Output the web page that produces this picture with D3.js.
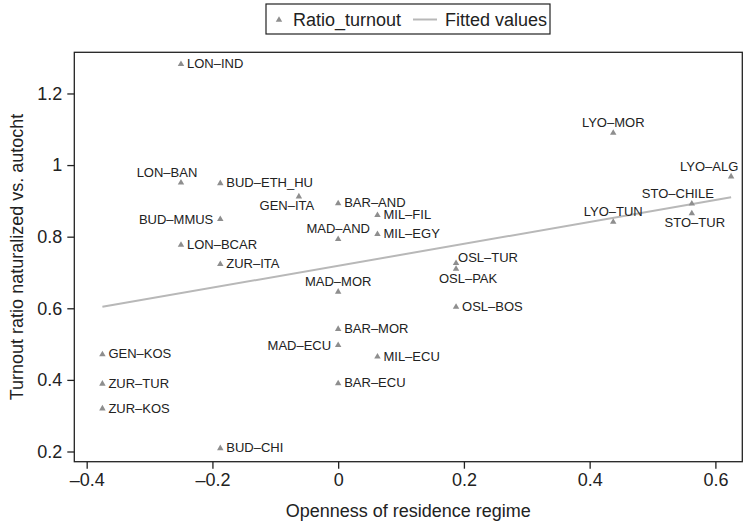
<!DOCTYPE html>
<html>
<head>
<meta charset="utf-8">
<script src="https://cdn.jsdelivr.net/npm/d3@7"></script>
<style>
  html, body { margin: 0; padding: 0; background: #fff; }
  svg { display: block; font-family: "Liberation Sans", Arial, Helvetica, sans-serif; }
</style>
</head>
<body>
<svg id="chart" width="744" height="525"></svg>
<script>
// City–origin pairs: openness of residence regime vs. turnout ratio
const pairLabels = ["LON–IND","LON–BAN","BUD–ETH_HU","GEN–ITA","BAR–AND","BUD–MMUS","MAD–AND",
  "MIL–FIL","MIL–EGY","LON–BCAR","ZUR–ITA","OSL–TUR","OSL–PAK","MAD–MOR","OSL–BOS","BAR–MOR",
  "MAD–ECU","MIL–ECU","BAR–ECU","GEN–KOS","ZUR–TUR","ZUR–KOS","BUD–CHI","LYO–MOR","LYO–ALG",
  "STO–CHILE","STO–TUR","LYO–TUN"];
const openness = [-0.25,-0.25,-0.1875,-0.0625,0,-0.1875,0,
  0.0625,0.0625,-0.25,-0.1875,0.1875,0.1875,0,0.1875,0,
  0,0.0625,0,-0.375,-0.375,-0.375,-0.1875,0.4375,0.625,
  0.5625,0.5625,0.4375];
const ratioTurnout = [1.282,0.951,0.949,0.912,0.893,0.849,0.793,
  0.860,0.807,0.777,0.723,0.726,0.710,0.646,0.604,0.542,
  0.497,0.465,0.390,0.471,0.389,0.320,0.209,1.090,0.968,
  0.892,0.865,0.841];
// marker-label clock positions
const labelClock = [3,11,3,7,3,9,12,
  3,3,3,3,2,5,12,3,3,
  9,3,3,3,3,3,3,12,11,
  11,6,12];

// fitted values (linear fit) at the ends of the observed range
const fitX = [-0.375, 0.625];
const fitY = [0.604, 0.910];

const xTicks = [-0.4,-0.2,0,0.2,0.4,0.6];
const yTicks = [0.2,0.4,0.6,0.8,1,1.2];

const W = 744, H = 525;
const margin = {left: 74.3, top: 52.3, right: 1.7, bottom: 63.3};
const markerColor = "#8e8e8e";
const lineColor = "#b8b8b8";
const inkColor = "#222";

const svg = d3.select("#chart");

const x = d3.scaleLinear().domain([-0.4197, 0.6428]).range([margin.left, W - margin.right]);
const y = d3.scaleLinear().domain([0.1715, 1.315]).range([H - margin.bottom, margin.top]);

const fmt = d => (d < 0 ? "–" : "") + String(Math.round(Math.abs(d) * 10) / 10);

// axes
const gx = svg.append("g")
  .attr("transform", `translate(0,${H - margin.bottom})`)
  .call(d3.axisBottom(x).tickValues(xTicks).tickFormat(fmt).tickSize(7).tickSizeOuter(0).tickPadding(5));
const gy = svg.append("g")
  .attr("transform", `translate(${margin.left},0)`)
  .call(d3.axisLeft(y).tickValues(yTicks).tickFormat(fmt).tickSize(7).tickSizeOuter(0).tickPadding(5));
[gx, gy].forEach(g => {
  g.select(".domain").remove();
  g.selectAll(".tick line").attr("stroke", inkColor).attr("stroke-width", 1.3);
  g.selectAll(".tick text").attr("fill", inkColor).attr("font-size", 18)
    .attr("font-family", "Liberation Sans, Arial, sans-serif");
});

// plot region frame
svg.append("rect")
  .attr("x", margin.left).attr("y", margin.top)
  .attr("width", W - margin.right - margin.left)
  .attr("height", H - margin.bottom - margin.top)
  .attr("fill", "none").attr("stroke", inkColor).attr("stroke-width", 1.3);

// axis titles
svg.append("text")
  .attr("x", (margin.left + W - margin.right) / 2).attr("y", 517)
  .attr("text-anchor", "middle").attr("font-size", 18).attr("fill", inkColor)
  .text("Openness of residence regime");
svg.append("text")
  .attr("transform", `translate(23,${(margin.top + H - margin.bottom) / 2}) rotate(-90)`)
  .attr("text-anchor", "middle").attr("font-size", 18).attr("fill", inkColor)
  .text("Turnout ratio naturalized vs. autocht");

// fitted line
const fitData = fitX.map((v, i) => [v, fitY[i]]);
svg.append("path")
  .datum(fitData)
  .attr("d", d3.line().x(d => x(d[0])).y(d => y(d[1])))
  .attr("fill", "none").attr("stroke", lineColor).attr("stroke-width", 2);

// markers and labels
const pts = pairLabels.map((name, i) => ({name, ox: openness[i], ry: ratioTurnout[i], pos: labelClock[i]}));
const tri = d3.symbol().type(d3.symbolTriangle).size(18);

svg.append("g").selectAll("path").data(pts).join("path")
  .attr("d", tri)
  .attr("transform", d => `translate(${x(d.ox)},${y(d.ry)})`)
  .attr("fill", markerColor);

// label placement around a marker by clock position
function labelPlacement(d) {
  const px = x(d.ox), py = y(d.ry), shift = 14;
  switch (d.pos) {
    case 12: return {x: px, y: py - 6, anchor: "middle"};
    case 11: return {x: px - shift, y: py - 6, anchor: "middle"};
    case 1:  return {x: px + shift, y: py - 6, anchor: "middle"};
    case 6:  return {x: px + 3, y: py + 14, anchor: "middle"};
    case 7:  return {x: px - shift + 2, y: py + 13.5, anchor: "middle"};
    case 5:  return {x: px + shift - 2, y: py + 14, anchor: "middle"};
    case 9:  return {x: px - 7, y: py + 4.5, anchor: "end"};
    case 2:  return {x: px + 2, y: py - 1, anchor: "start"};
    default: return {x: px + 6, y: py + 4, anchor: "start"};
  }
}

const plotRight = W - margin.right - 4;
svg.append("g").selectAll("text").data(pts).join("text")
  .attr("font-size", 13).attr("fill", inkColor)
  .text(d => d.name)
  .each(function(d) {
    const p = labelPlacement(d);
    const t = d3.select(this).attr("y", p.y).attr("text-anchor", "start");
    const w = this.getComputedTextLength();
    let left = p.anchor === "middle" ? p.x - w / 2 : p.anchor === "end" ? p.x - w : p.x;
    // keep labels inside the plot region
    if (left + w > plotRight) left = plotRight - w;
    t.attr("x", left);
  });

// legend
const lg = svg.append("g");
lg.append("rect").attr("x", 266).attr("y", 4).attr("width", 284).attr("height", 30)
  .attr("fill", "#fff").attr("stroke", inkColor).attr("stroke-width", 1.2);
lg.append("path").attr("d", tri).attr("transform", "translate(279,20)").attr("fill", markerColor);
lg.append("text").attr("x", 293).attr("y", 26).attr("font-size", 18).attr("fill", inkColor).text("Ratio_turnout");
lg.append("line").attr("x1", 413).attr("x2", 437).attr("y1", 19.5).attr("y2", 19.5)
  .attr("stroke", lineColor).attr("stroke-width", 2);
lg.append("text").attr("x", 445).attr("y", 26).attr("font-size", 18).attr("fill", inkColor).text("Fitted values");
</script>
</body>
</html>
